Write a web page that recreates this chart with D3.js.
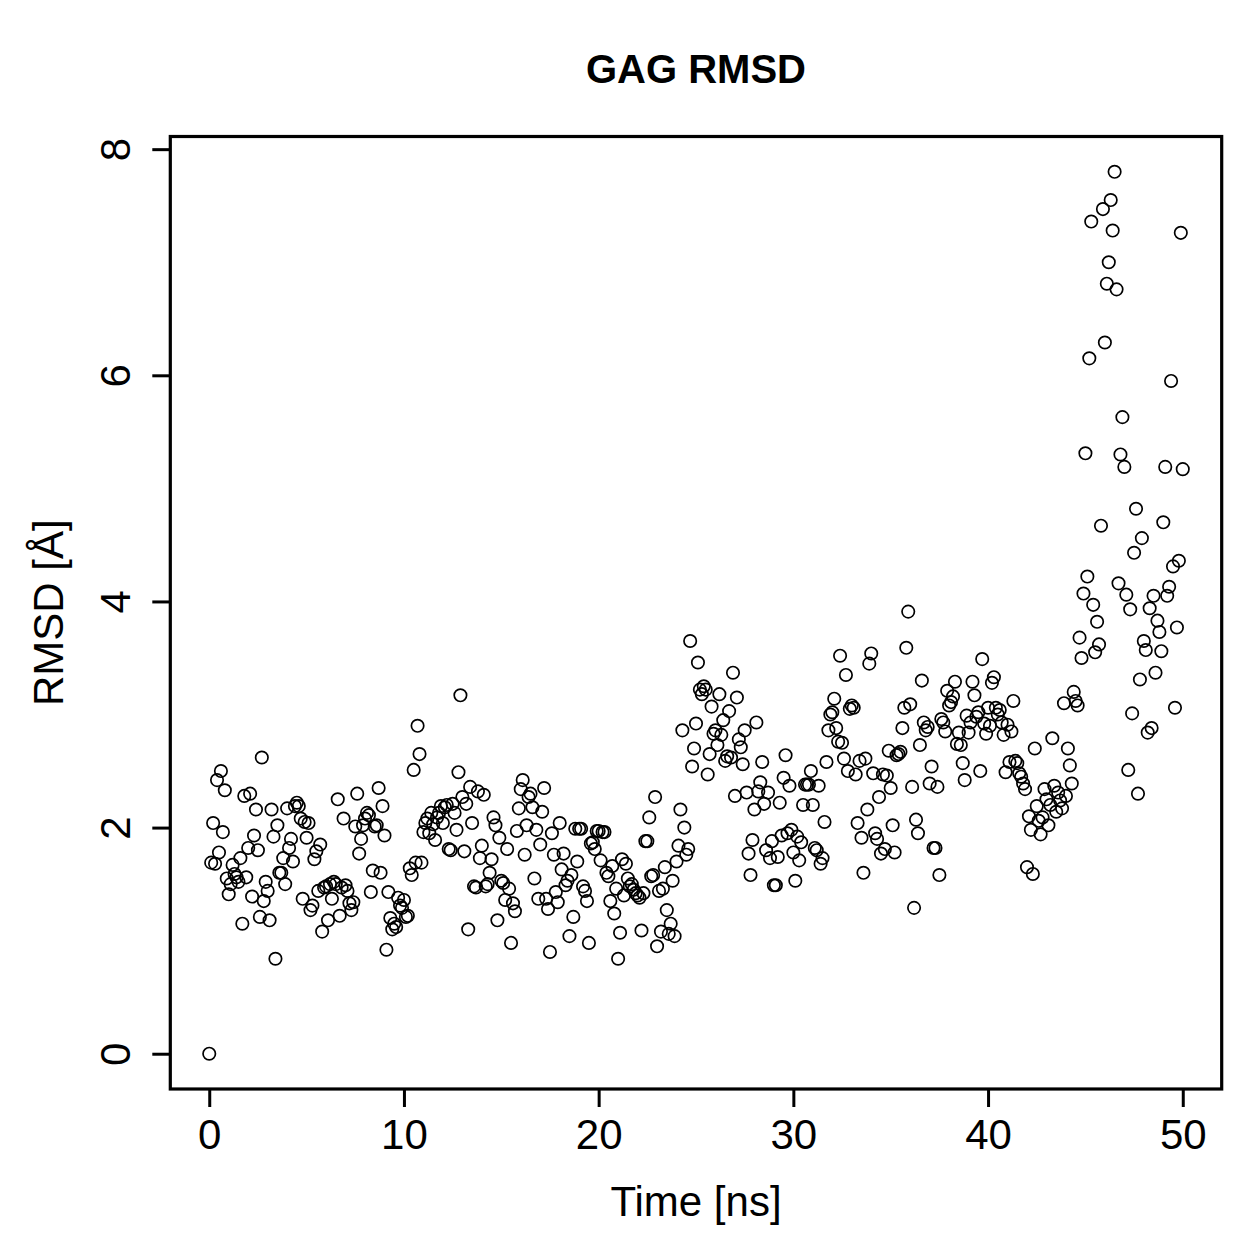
<!DOCTYPE html>
<html>
<head>
<meta charset="utf-8">
<script src="https://cdn.jsdelivr.net/npm/d3@7"></script>
<style>
  html, body { margin: 0; padding: 0; background: #fff; }
  svg { display: block; }
  text { font-family: "Liberation Sans", Arial, Helvetica, sans-serif; fill: #000; }
</style>
</head>
<body>
<svg id="chart" width="1259" height="1259"></svg>
<script>
// ---- data (RMSD in Å, one frame every 0.1 ns) ----
const title = "GAG RMSD";
const xLabel = "Time [ns]";
const yLabel = "RMSD [Å]";
const xTicks = [0, 10, 20, 30, 40, 50];
const yTicks = [0, 2, 4, 6, 8];
const nsPerFrame = 0.1;

const rmsd0to10 = [
  0.00, 1.69, 2.04, 1.68, 2.42, 1.78, 2.50, 1.96, 2.33, 1.55,
  1.41, 1.50, 1.67, 1.59, 1.56, 1.52, 1.73, 1.15, 2.28, 1.56,
  1.82, 2.30, 1.39, 1.93, 2.16, 1.80, 1.21, 2.62, 1.35, 1.52,
  1.44, 1.18, 2.16, 1.92, 0.84, 2.02, 1.60, 1.60, 1.73, 1.50,
  2.17, 1.82, 1.90, 1.70, 2.19, 2.22, 2.19, 2.08, 1.37, 2.05,
  1.91, 2.04, 1.27, 1.31, 1.72, 1.79, 1.44, 1.85, 1.08, 1.47,
  1.48, 1.18, 1.50, 1.37, 1.52, 1.50, 2.25, 1.22, 1.47, 2.08,
  1.49, 1.44, 1.33, 1.27, 1.34, 2.01, 2.30, 1.77, 1.90, 2.02,
  2.08, 2.13, 2.11, 1.43, 1.62, 2.01, 2.02, 2.35, 1.60, 2.19,
  1.93, 0.92, 1.43, 1.20, 1.10, 1.15, 1.12, 1.38, 1.31, 1.29
];
const rmsd10to20 = [
  1.36, 1.21, 1.22, 1.64, 1.58, 2.51, 1.69, 2.90, 2.65, 1.69,
  1.96, 2.04, 2.08, 1.95, 2.13, 2.03, 1.89, 2.09, 2.13, 2.19,
  2.04, 2.18, 2.20, 1.81, 1.80, 2.21, 2.13, 1.98, 2.49, 3.17,
  2.27, 1.79, 2.21, 1.10, 2.36, 2.04, 1.48, 1.47, 2.32, 1.73,
  1.84, 2.29, 1.48, 1.50, 1.60, 1.72, 2.09, 2.02, 1.18, 1.91,
  1.53, 1.51, 1.36, 1.81, 1.46, 0.98, 1.33, 1.26, 1.97, 2.17,
  2.34, 2.42, 1.76, 2.02, 2.27, 2.30, 2.18, 1.55, 1.98, 1.37,
  1.85, 2.14, 2.35, 1.37, 1.28, 0.90, 1.95, 1.76, 1.43, 1.34,
  2.04, 1.63, 1.77, 1.49, 1.53, 1.04, 1.58, 1.21, 1.99, 1.70,
  1.99, 1.99, 1.48, 1.44, 1.35, 0.98, 1.86, 1.87, 1.81, 1.97
];
const rmsd20to30 = [
  1.97, 1.71, 1.96, 1.96, 1.60, 1.57, 1.35, 1.66, 1.24, 1.46,
  0.84, 1.07, 1.72, 1.40, 1.68, 1.55, 1.48, 1.50, 1.45, 1.42,
  1.40, 1.38, 1.09, 1.42, 1.88, 1.88, 2.09, 1.57, 1.58, 2.27,
  0.95, 1.44, 1.08, 1.46, 1.65, 1.27, 1.06, 1.15, 1.53, 1.04,
  1.70, 1.84, 2.16, 2.86, 2.00, 1.76, 1.81, 3.65, 2.54, 2.70,
  2.92, 3.46, 3.22, 3.18, 3.25, 3.22, 2.47, 2.65, 3.07, 2.83,
  2.86, 2.73, 3.18, 2.82, 2.95, 2.59, 2.63, 3.03, 2.62, 3.37,
  2.28, 3.15, 2.78, 2.71, 2.56, 2.86, 2.31, 1.77, 1.58, 1.89,
  2.16, 2.93, 2.32, 2.40, 2.58, 2.21, 1.80, 2.31, 1.73, 1.88,
  1.49, 1.49, 1.74, 2.22, 1.93, 2.44, 2.64, 1.95, 2.37, 1.98
];
const rmsd30to40 = [
  1.78, 1.53, 1.92, 1.71, 1.87, 2.20, 2.38, 2.38, 2.38, 2.50,
  2.20, 1.82, 1.80, 2.37, 1.68, 1.73, 2.05, 2.58, 2.86, 3.00,
  3.02, 3.14, 2.88, 2.76, 3.52, 2.75, 2.61, 3.35, 2.50, 3.05,
  3.08, 3.06, 2.47, 2.04, 2.59, 1.91, 1.60, 2.61, 2.16, 3.45,
  3.54, 2.48, 1.95, 1.90, 2.27, 1.77, 2.47, 1.81, 2.46, 2.68,
  2.35, 2.02, 1.78, 2.64, 2.65, 2.67, 2.88, 3.06, 3.59, 3.91,
  3.09, 2.36, 1.29, 2.07, 1.95, 2.73, 3.30, 2.93, 2.86, 2.89,
  2.39, 2.54, 1.82, 1.82, 2.36, 1.58, 2.96, 2.93, 2.85, 3.21,
  3.08, 3.11, 3.16, 3.29, 2.74, 2.84, 2.73, 2.57, 2.42, 2.99,
  2.84, 2.93, 3.29, 3.17, 2.98, 3.02, 2.50, 3.49, 2.92, 2.83
];
const rmsd40to50 = [
  3.06, 2.90, 3.28, 3.33, 3.06, 3.00, 3.04, 2.93, 2.82, 2.49,
  2.91, 2.58, 2.85, 3.12, 2.59, 2.57, 2.48, 2.45, 2.39, 2.34,
  1.65, 2.10, 1.98, 1.59, 2.70, 2.19, 2.06, 1.94, 2.09, 2.34,
  2.25, 2.02, 2.20, 2.79, 2.37, 2.14, 2.31, 2.24, 2.17, 3.10,
  2.28, 2.70, 2.55, 2.39, 3.20, 3.12, 3.08, 3.68, 3.50, 4.07,
  5.31, 4.22, 6.15, 7.36, 3.97, 3.55, 3.82, 3.62, 4.67, 7.47,
  6.29, 6.81, 7.00, 7.55, 7.28, 7.80, 6.76, 4.16, 5.30, 5.63,
  5.19, 4.06, 2.51, 3.93, 3.01, 4.43, 4.82, 2.30, 3.31, 4.56,
  3.65, 3.57, 2.84, 3.94, 2.88, 4.05, 3.37, 3.83, 3.73, 3.56,
  4.70, 5.19, 4.05, 4.13, 5.95, 4.31, 3.06, 3.77, 4.36, 7.26,
  5.17
];

const rmsd = [].concat(rmsd0to10, rmsd10to20, rmsd20to30, rmsd30to40, rmsd40to50);
const points = rmsd.map((v, i) => ({ t: i * nsPerFrame, v }));

// ---- layout ----
const svg = d3.select("#chart");
const box = { left: 170.3, right: 1221.7, top: 136.5, bottom: 1089 };

// R-style 4% range extension
const tMax = d3.max(points, d => d.t), vMax = d3.max(points, d => d.v);
const x = d3.scaleLinear().domain([0 - tMax * 0.04, tMax * 1.04]).range([box.left, box.right]);
const y = d3.scaleLinear().domain([0 - vMax * 0.04, vMax * 1.04]).range([box.bottom, box.top]);

svg.append("rect").attr("width", 1259).attr("height", 1259).attr("fill", "#fff");

// points
svg.append("g")
  .selectAll("circle")
  .data(points)
  .join("circle")
  .attr("cx", d => x(d.t))
  .attr("cy", d => y(d.v))
  .attr("r", 6.2)
  .attr("fill", "none")
  .attr("stroke", "#000")
  .attr("stroke-width", 1.7);

// x axis
const xAxis = d3.axisBottom(x).tickValues(xTicks).tickSize(18).tickPadding(10).tickFormat(d3.format("d"));
const gx = svg.append("g").attr("transform", `translate(0,${box.bottom})`).call(xAxis);
gx.select(".domain").remove();
gx.selectAll(".tick line").attr("stroke", "#000").attr("stroke-width", 3);
gx.selectAll(".tick text")
  .attr("font-size", 42).attr("font-family", "Liberation Sans, Arial, sans-serif")
  .attr("fill", "#000")
  .attr("y", 60).attr("dy", 0);

// y axis
const yAxis = d3.axisLeft(y).tickValues(yTicks).tickSize(18).tickFormat(d3.format("d"));
const gy = svg.append("g").attr("transform", `translate(${box.left},0)`).call(yAxis);
gy.select(".domain").remove();
gy.selectAll(".tick line").attr("stroke", "#000").attr("stroke-width", 3);
gy.selectAll(".tick text")
  .attr("font-size", 42).attr("font-family", "Liberation Sans, Arial, sans-serif")
  .attr("fill", "#000")
  .attr("x", null).attr("dy", null)
  .attr("text-anchor", "middle")
  .attr("transform", "translate(-40,0) rotate(-90)");

// box
svg.append("rect")
  .attr("x", box.left).attr("y", box.top)
  .attr("width", box.right - box.left).attr("height", box.bottom - box.top)
  .attr("fill", "none").attr("stroke", "#000").attr("stroke-width", 3.2);

// title
svg.append("text")
  .attr("x", (box.left + box.right) / 2).attr("y", 83)
  .attr("text-anchor", "middle")
  .attr("font-size", 40).attr("font-weight", "bold")
  .text(title);

// axis labels
svg.append("text")
  .attr("x", (box.left + box.right) / 2).attr("y", 1216)
  .attr("text-anchor", "middle")
  .attr("font-size", 42)
  .text(xLabel);

svg.append("text")
  .attr("transform", `translate(63,${(box.top + box.bottom) / 2}) rotate(-90)`)
  .attr("text-anchor", "middle")
  .attr("font-size", 42)
  .text(yLabel);
</script>
</body>
</html>
